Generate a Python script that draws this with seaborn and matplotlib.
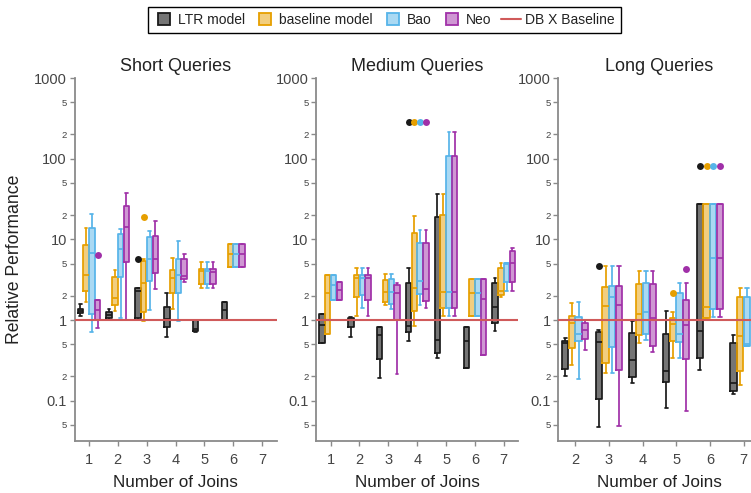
import matplotlib
matplotlib.use("Agg")
import numpy as np
import pandas as pd
import seaborn as sns
import matplotlib.pyplot as plt
from matplotlib.lines import Line2D
from matplotlib.ticker import FixedLocator, FixedFormatter

# ---------------- data ----------------
models = ["LTR model", "baseline model", "Bao", "Neo"]
colors = ["#1a1a1a", "#E69F00", "#56B4E9", "#A030A8"]
titles = ["Short Queries", "Medium Queries", "Long Queries"]

joins_short = [1, 2, 3, 4, 5, 6, 7]
joins_medium = [1, 2, 3, 4, 5, 6, 7]
joins_long = [2, 3, 4, 5, 6, 7]

# (whisker low, Q1, median, Q3, whisker high) per number of joins
short_ltr = [(1.12, 1.21, 1.29, 1.38, 1.57), (1.00, 1.05, 1.14, 1.25, 1.38),
             (1.00, 1.05, 2.29, 2.47, 2.50), (0.62, 0.82, 1.03, 1.46, 2.18),
             (0.71, 0.74, 0.78, 1.00, 1.00), (1.00, 1.00, 1.34, 1.67, 1.67), None]
short_base = [(1.66, 2.31, 3.65, 8.45, 13.7), (1.30, 1.52, 1.89, 3.45, 4.14),
              (0.96, 1.25, 2.90, 5.40, 5.71), (1.36, 2.16, 3.35, 4.17, 5.93),
              (2.47, 2.80, 4.09, 4.25, 5.30), (4.58, 4.58, 6.59, 8.70, 8.70), None]
short_bao = [(0.70, 1.18, 6.72, 13.7, 20.5), (1.05, 3.45, 7.60, 11.6, 13.3),
             (1.34, 3.02, 5.76, 10.6, 12.8), (0.96, 2.14, 3.59, 5.76, 9.55),
             (2.47, 2.80, 4.09, 4.25, 5.30), (4.58, 4.58, 6.59, 8.70, 8.70), None]
short_neo = [(0.80, 1.00, 1.33, 1.75, 1.78), (1.00, 5.20, 14.4, 26.0, 37.3),
             (2.45, 3.80, 5.76, 11.1, 16.9), (2.96, 3.23, 3.55, 5.76, 6.50),
             (2.47, 2.80, 3.90, 4.25, 5.30), (4.58, 4.58, 6.59, 8.70, 8.70), None]

medium_ltr = [(0.52, 0.52, 0.86, 1.20, 1.20), (0.62, 0.83, 1.00, 1.05, 1.10),
              (0.19, 0.33, 0.65, 0.81, 0.81), (0.55, 0.70, 0.84, 2.88, 4.46),
              (0.335, 0.39, 0.565, 18.8, 36.3), (0.256, 0.256, 0.544, 0.83, 0.83),
              (0.73, 0.91, 1.46, 2.85, 3.29)]
medium_base = [(0.68, 0.68, 2.14, 3.62, 3.62), (1.12, 1.95, 3.29, 3.62, 4.38),
               (1.54, 1.66, 2.25, 3.14, 3.69), (0.84, 1.30, 2.47, 11.9, 19.7),
               (1.12, 1.40, 2.25, 19.9, 36.3), (1.12, 1.12, 2.18, 3.23, 3.23),
               (1.91, 2.04, 2.31, 4.46, 5.14)]
medium_bao = [(1.77, 1.77, 2.69, 3.62, 3.62), (1.40, 2.04, 3.35, 3.62, 4.38),
              (1.36, 1.57, 2.25, 3.20, 3.69), (1.55, 2.08, 3.05, 8.95, 13.1),
              (1.12, 1.40, 2.25, 109.0, 217.0), (1.12, 1.12, 2.18, 3.23, 3.23),
              (2.31, 2.99, 5.00, 5.14, 5.14)]
medium_neo = [(1.77, 1.77, 2.36, 2.96, 2.96), (1.12, 1.77, 3.29, 3.62, 4.38),
              (0.214, 1.00, 2.18, 2.72, 2.85), (1.42, 1.72, 2.42, 8.95, 13.1),
              (1.12, 1.40, 2.25, 109.0, 217.0), (0.37, 0.37, 1.80, 3.23, 3.23),
              (2.31, 2.99, 5.14, 7.18, 7.90)]

long_ltr = [(0.204, 0.244, 0.52, 0.55, 0.59), (0.0466, 0.104, 0.533, 0.716, 0.75),
            (0.167, 0.198, 0.319, 0.69, 0.97), (0.080, 0.172, 0.233, 0.665, 1.30),
            (0.242, 0.335, 0.737, 27.5, 27.5), (0.12, 0.131, 0.164, 0.52, 0.645)]
long_base = [(0.277, 0.45, 0.91, 1.12, 1.61), (0.218, 0.29, 1.49, 2.59, 4.64),
             (0.52, 0.65, 1.19, 2.80, 4.02), (0.34, 0.55, 0.885, 1.07, 1.27),
             (1.07, 1.07, 1.46, 27.5, 27.5), (0.157, 0.235, 0.633, 1.95, 2.47)]
long_bao = [(0.187, 0.55, 0.68, 1.08, 1.66), (0.218, 0.458, 1.93, 2.67, 4.64),
            (0.56, 0.675, 1.26, 2.90, 4.02), (0.34, 0.53, 0.665, 2.18, 2.85),
            (1.10, 1.36, 5.83, 27.5, 27.5), (0.48, 0.48, 0.51, 1.95, 2.47)]
long_neo = [(0.42, 0.586, 0.75, 0.93, 1.00), (0.0484, 0.24, 1.54, 2.67, 4.64),
            (0.40, 0.476, 1.07, 2.80, 4.02), (0.0743, 0.325, 0.87, 1.75, 2.85),
            (1.10, 1.36, 5.83, 27.5, 27.5), None]

# outliers: (number of joins, model, value)
short_outliers = [(1, "Neo", 6.45), (3, "LTR model", 5.71), (3, "baseline model", 18.8)]
medium_outliers = [(4, "LTR model", 286.0), (4, "baseline model", 286.0),
                   (4, "Bao", 286.0), (4, "Neo", 286.0)]
long_outliers = [(3, "LTR model", 4.64), (5, "baseline model", 2.14), (5, "Neo", 4.26),
                 (6, "LTR model", 80.7), (6, "baseline model", 80.7),
                 (6, "Bao", 80.7), (6, "Neo", 80.7)]

baseline_value = 1.0

# ---------------- style ----------------
sns.set_style("ticks")
plt.rcParams["font.family"] = ["Liberation Sans", "DejaVu Sans"]
text_color = "#444444"
axis_color = "#8a8a8a"
red = "#d05a5a"

fig = plt.figure(figsize=(7.51, 4.93), dpi=100)
W, H = 751.0, 493.0
ax_top, ax_bot = 78.0, 441.0
ax_w = 202.0
lefts = [74.5, 316.2, 558.4]

panels = [
    (joins_short, [short_ltr, short_base, short_bao, short_neo], short_outliers),
    (joins_medium, [medium_ltr, medium_base, medium_bao, medium_neo], medium_outliers),
    (joins_long, [long_ltr, long_base, long_bao, long_neo], long_outliers),
]

for k, (joins, series, outliers) in enumerate(panels):
    ax = fig.add_axes([lefts[k] / W, (H - ax_bot) / H, ax_w / W, (ax_bot - ax_top) / H])
    rows = []
    for i, j in enumerate(joins):
        for m, arr in zip(models, series):
            if arr[i] is None:
                continue
            for v in arr[i]:
                rows.append((str(j), m, v))
    df = pd.DataFrame(rows, columns=["joins", "model", "value"])
    out_df = pd.DataFrame([(str(j), m, v) for j, m, v in outliers],
                          columns=["joins", "model", "value"])
    order = [str(j) for j in joins]

    common = dict(x="joins", y="value", hue="model", order=order,
                  hue_order=models, palette=colors, ax=ax, log_scale=True,
                  legend=False)

    # filled layer (translucent)
    n_lines = len(ax.lines)
    sns.boxplot(data=df, fill=True, saturation=1, whis=(0, 100),
                showfliers=False, gap=0.06, width=0.8, linewidth=0, **common)
    for ln in ax.lines[n_lines:]:
        ln.remove()
    for p in ax.patches:
        fc = p.get_facecolor()
        p.set_facecolor((fc[0], fc[1], fc[2], 0.5 if sum(fc[:3]) > 0.5 else 0.6))
        p.set_linewidth(0)

    # outline layer
    sns.boxplot(data=df, fill=False, whis=(0, 100), showfliers=False,
                gap=0.06, width=0.8, linewidth=1.25, **common)

    # outliers
    sns.stripplot(data=out_df, dodge=True, jitter=False, size=5, linewidth=0,
                  zorder=4, **common)

    ax.axhline(baseline_value, color=red, lw=1.5, zorder=5)

    ax.set_ylim(10 ** -1.5, 1000)
    ax.set_xlim(-0.5, len(joins) - 0.5)

    ax.yaxis.set_major_locator(FixedLocator([0.1, 1, 10, 100, 1000]))
    ax.yaxis.set_major_formatter(FixedFormatter(["0.1", "1", "10", "100", "1000"]))
    minors = [0.05, 0.2, 0.5, 2, 5, 20, 50, 200, 500]
    ax.yaxis.set_minor_locator(FixedLocator(minors))
    ax.yaxis.set_minor_formatter(FixedFormatter(["5", "2", "5", "2", "5", "2", "5", "2", "5"]))
    ax.tick_params(axis="y", which="major", labelsize=10.5, length=3.5, width=1,
                   color=axis_color, labelcolor=text_color, pad=2)
    ax.tick_params(axis="y", which="minor", labelsize=6.8, length=3.5, width=1,
                   color=axis_color, labelcolor=text_color, pad=2)
    ax.tick_params(axis="x", labelsize=10.5, length=3.5, width=1,
                   color=axis_color, labelcolor=text_color, pad=5)

    for side in ["top", "right"]:
        ax.spines[side].set_visible(False)
    for side in ["left", "bottom"]:
        ax.spines[side].set_color(axis_color)
        ax.spines[side].set_linewidth(1.3)

    ax.set_title(titles[k], fontsize=13, color="#222222", pad=5)
    ax.set_xlabel("Number of Joins", fontsize=12.3, color="#222222", labelpad=6)
    ax.set_ylabel("")

fig.text(14.5 / W, 1 - 259.5 / H, "Relative Performance", rotation=90,
         ha="center", va="center", fontsize=12.7, color="#222222")

# legend
handles = []
for m, c in zip(models, colors):
    rgb = matplotlib.colors.to_rgb(c)
    handles.append(Line2D([], [], linestyle="none", marker="s", markersize=8.5,
                          markerfacecolor=(*rgb, 0.5 if sum(rgb) > 0.5 else 0.6),
                          markeredgecolor=c, markeredgewidth=1.3))
handles.append(Line2D([], [], color=red, lw=1.5))
leg = fig.legend(handles, models + ["DB X Baseline"], loc="upper center",
                 bbox_to_anchor=(384.5 / W, 1 - 6.5 / H), ncol=5, frameon=True,
                 fancybox=False, edgecolor="black", framealpha=1, fontsize=10,
                 handlelength=1.45, handletextpad=0.3, columnspacing=0.7,
                 borderpad=0.45, borderaxespad=0)
leg.get_frame().set_linewidth(1.0)
for t in leg.get_texts():
    t.set_color("#222222")

fig.savefig("out.png", dpi=100)
